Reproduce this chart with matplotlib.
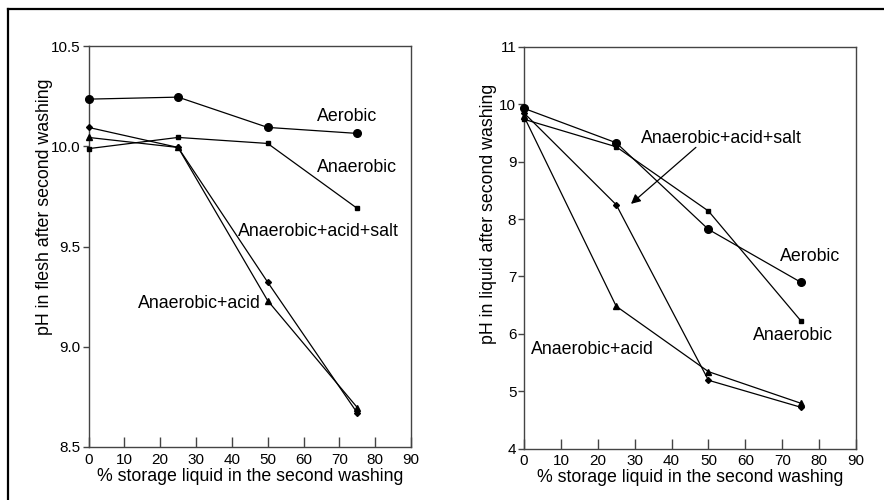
import matplotlib
matplotlib.use("Agg")
import matplotlib.pyplot as plt
from matplotlib.lines import Line2D

plt.rcParams['font.family'] = ['Liberation Sans', 'DejaVu Sans']

# ---- data ----
storage_pct = [0, 25, 50, 75]

# Left panel: pH in flesh
flesh_aerobic = [10.235, 10.245, 10.094, 10.064]
flesh_anaerobic = [9.988, 10.044, 10.014, 9.69]
flesh_acid_salt = [10.094, 9.994, 9.322, 8.67]
flesh_acid = [10.044, 9.994, 9.23, 8.697]

# Right panel: pH in liquid
liquid_aerobic = [9.93, 9.33, 7.82, 6.90]
liquid_anaerobic = [9.74, 9.26, 8.14, 6.23]
liquid_acid_salt = [9.85, 8.25, 5.19, 4.72]
liquid_acid = [9.79, 6.48, 5.34, 4.79]

xticks = [0, 10, 20, 30, 40, 50, 60, 70, 80, 90]
flesh_yticks = [8.5, 9.0, 9.5, 10.0, 10.5]
liquid_yticks = [4, 5, 6, 7, 8, 9, 10, 11]

xlabel = "% storage liquid in the second washing"
ylabel_flesh = "pH in flesh after second washing"
ylabel_liquid = "pH in liquid after second washing"

fig = plt.figure(figsize=(8.84, 5.00), dpi=100)

ax1 = fig.add_axes([88.5 / 884, 1 - 447 / 500, (411 - 88.5) / 884, (447 - 46) / 500])
ax2 = fig.add_axes([524 / 884, 1 - 448.5 / 500, (856 - 524) / 884, (448.5 - 47) / 500])

lw = 0.9
spine_col = '#444444'
tick_fs = 11

def style(ax, ylim, yticks, yfmt):
    ax.set_xlim(0, 90)
    ax.set_ylim(*ylim)
    ax.set_xticks(xticks)
    ax.set_xticklabels([str(t) for t in xticks], fontsize=tick_fs)
    ax.set_yticks(yticks)
    ax.set_yticklabels([yfmt.format(t) for t in yticks], fontsize=tick_fs)
    ax.tick_params(axis='x', direction='in', length=7, width=1, color=spine_col, pad=4)
    ax.tick_params(axis='y', direction='out', length=4, width=1, color=spine_col, pad=1.5)
    for s in ax.spines.values():
        s.set_color(spine_col)
        s.set_linewidth(1.0)
    ax.set_xlabel(xlabel, fontsize=12.8, labelpad=1)

def plot_series(ax, y, marker, ms):
    ax.plot(storage_pct, y, color='black', lw=lw, marker=marker, ms=ms,
            mfc='black', mec='black', clip_on=False, zorder=3)

# Left panel
style(ax1, (8.5, 10.5), flesh_yticks, "{:.1f}")
plot_series(ax1, flesh_aerobic, 'o', 5.5)
plot_series(ax1, flesh_anaerobic, 's', 3.5)
plot_series(ax1, flesh_acid_salt, 'D', 3)
plot_series(ax1, flesh_acid, '^', 4.5)
ax1.set_ylabel(ylabel_flesh, fontsize=12.8)
ax1.yaxis.set_label_coords(-0.11, 0.60)

fs = 12.8
ax1.text(63.8, 10.147, "Aerobic", fontsize=fs, va='center', ha='left')
ax1.text(63.8, 9.895, "Anaerobic", fontsize=fs, va='center', ha='left')
ax1.text(41.6, 9.576, "Anaerobic+acid+salt", fontsize=fs, va='center', ha='left')
ax1.text(13.7, 9.215, "Anaerobic+acid", fontsize=fs, va='center', ha='left')

# Right panel
style(ax2, (4, 11), liquid_yticks, "{:d}")
plot_series(ax2, liquid_aerobic, 'o', 5.5)
plot_series(ax2, liquid_anaerobic, 's', 3.5)
plot_series(ax2, liquid_acid_salt, 'D', 3)
plot_series(ax2, liquid_acid, '^', 4.5)
ax2.set_ylabel(ylabel_liquid, fontsize=12.8)
ax2.yaxis.set_label_coords(-0.082, 0.585)

ax2.text(31.7, 9.41, "Anaerobic+acid+salt", fontsize=fs, va='center', ha='left')
ax2.text(69.5, 7.35, "Aerobic", fontsize=fs, va='center', ha='left')
ax2.text(62.2, 5.97, "Anaerobic", fontsize=fs, va='center', ha='left')
ax2.text(1.9, 5.72, "Anaerobic+acid", fontsize=fs, va='center', ha='left')
ax2.annotate("", xy=(29.0, 8.265), xytext=(46.6, 9.25),
             arrowprops=dict(arrowstyle='-|>', color='black', lw=0.9,
                             mutation_scale=14, shrinkA=0, shrinkB=0))

# Figure border (top and left edges)
fig.add_artist(Line2D([8 / 884, 1.0], [1 - 9 / 500, 1 - 9 / 500],
                      transform=fig.transFigure, color='black', lw=1.6))
fig.add_artist(Line2D([8 / 884, 8 / 884], [0.0, 1 - 9 / 500],
                      transform=fig.transFigure, color='black', lw=1.6))

fig.savefig("out.png", dpi=100)
